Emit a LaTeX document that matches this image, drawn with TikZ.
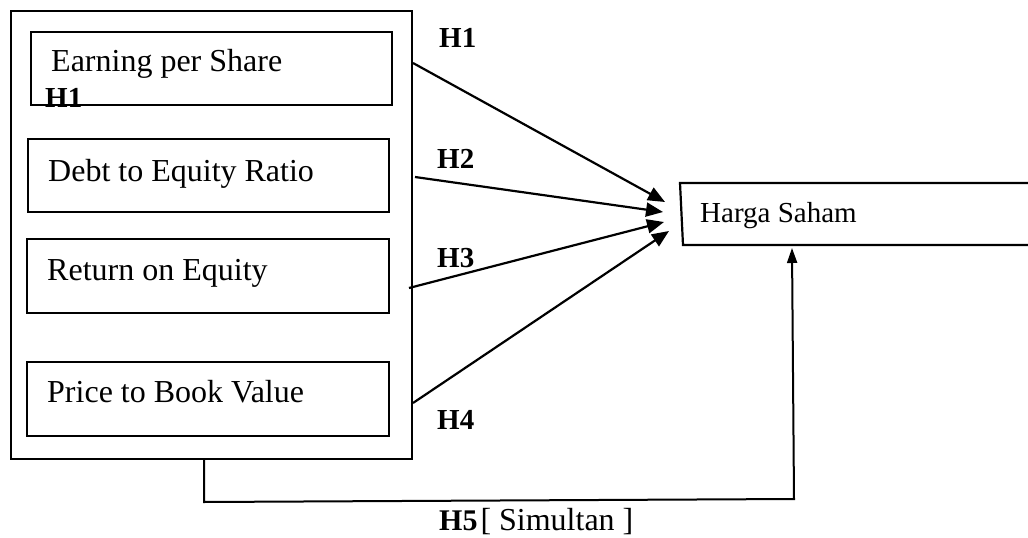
\documentclass[tikz,border=0pt]{standalone}
\usepackage{fontspec}
\setmainfont{Liberation Serif}
\usetikzlibrary{arrows.meta}
\begin{document}
\begin{tikzpicture}[x=1pt,y=-1pt,
  box/.style={draw, line width=2.2pt, inner sep=0pt, outer sep=0pt, anchor=north west},
  lbl/.style={anchor=base west, inner sep=0pt, font=\fontsize{32}{38}\selectfont},
  hyp/.style={anchor=base west, inner sep=0pt, font=\fontsize{29}{34}\selectfont\bfseries},
  arr/.style={line width=2.2pt, -{Triangle[length=17pt,width=14pt]}},
  conn/.style={line width=2pt},
]
\useasboundingbox (0,0) rectangle (1028,538);
% outer frame
\node[box, minimum width=401pt, minimum height=448pt] (outer) at (11,11) {};
% inner boxes
\node[box, minimum width=361pt, minimum height=73pt] (eps) at (31,32) {};
\node[box, minimum width=361pt, minimum height=73pt] (der) at (28,139) {};
\node[box, minimum width=362pt, minimum height=74pt] (roe) at (27,239) {};
\node[box, minimum width=362pt, minimum height=74pt] (pbv) at (27,362) {};
% texts
\node[lbl] (tEps) at (51,71) {Earning per Share};
\node[hyp] (hIn) at (45,107) {H1};
\node[lbl] (tDer) at (48,181) {Debt to Equity Ratio};
\node[lbl] (tRoe) at (47,280) {Return on Equity};
\node[lbl] (tPbv) at (47,402) {Price to Book Value};
% hypothesis labels
\node[hyp] (h1) at (439,47) {H1};
\node[hyp] (h2) at (437,168) {H2};
\node[hyp] (h3) at (437,267) {H3};
\node[hyp] (h4) at (437,429) {H4};
% Harga Saham box (open on the right)
\coordinate (hs1) at (1028,183);
\coordinate (hs2) at (680,183);
\coordinate (hs3) at (683,245);
\coordinate (hs4) at (1028,245);
\draw[line width=2.2pt] (hs1) -- (hs2) -- (hs3) -- (hs4);
\node[anchor=base west, inner sep=0pt, font=\fontsize{29}{34}\selectfont] (tHs) at (700,222) {Harga Saham};
% arrows
\coordinate (a1s) at (413,63);  \coordinate (a1e) at (665,202);
\coordinate (a2s) at (415,177); \coordinate (a2e) at (663,212);
\coordinate (a3s) at (409,288); \coordinate (a3e) at (664,222);
\coordinate (a4s) at (413,403); \coordinate (a4e) at (669,231);
\draw[arr] (a1s) -- (a1e);
\draw[arr] (a2s) -- (a2e);
\draw[arr] (a3s) -- (a3e);
\draw[arr] (a4s) -- (a4e);
% simultaneous connector
\coordinate (b0) at (204,459);
\coordinate (b1) at (204,502);
\coordinate (b2) at (794,499);
\coordinate (b3) at (792,248);
\draw[conn, -{Triangle[length=15pt,width=10pt]}] (b0) -- (b1) -- (b2) -- (b3);
\node[anchor=base west, inner sep=0pt, font=\fontsize{32}{38}\selectfont] (h5) at (439,530) {{\fontsize{30}{36}\selectfont\bfseries H5}\kern3pt[ Simultan ]};
\end{tikzpicture}
\end{document}
